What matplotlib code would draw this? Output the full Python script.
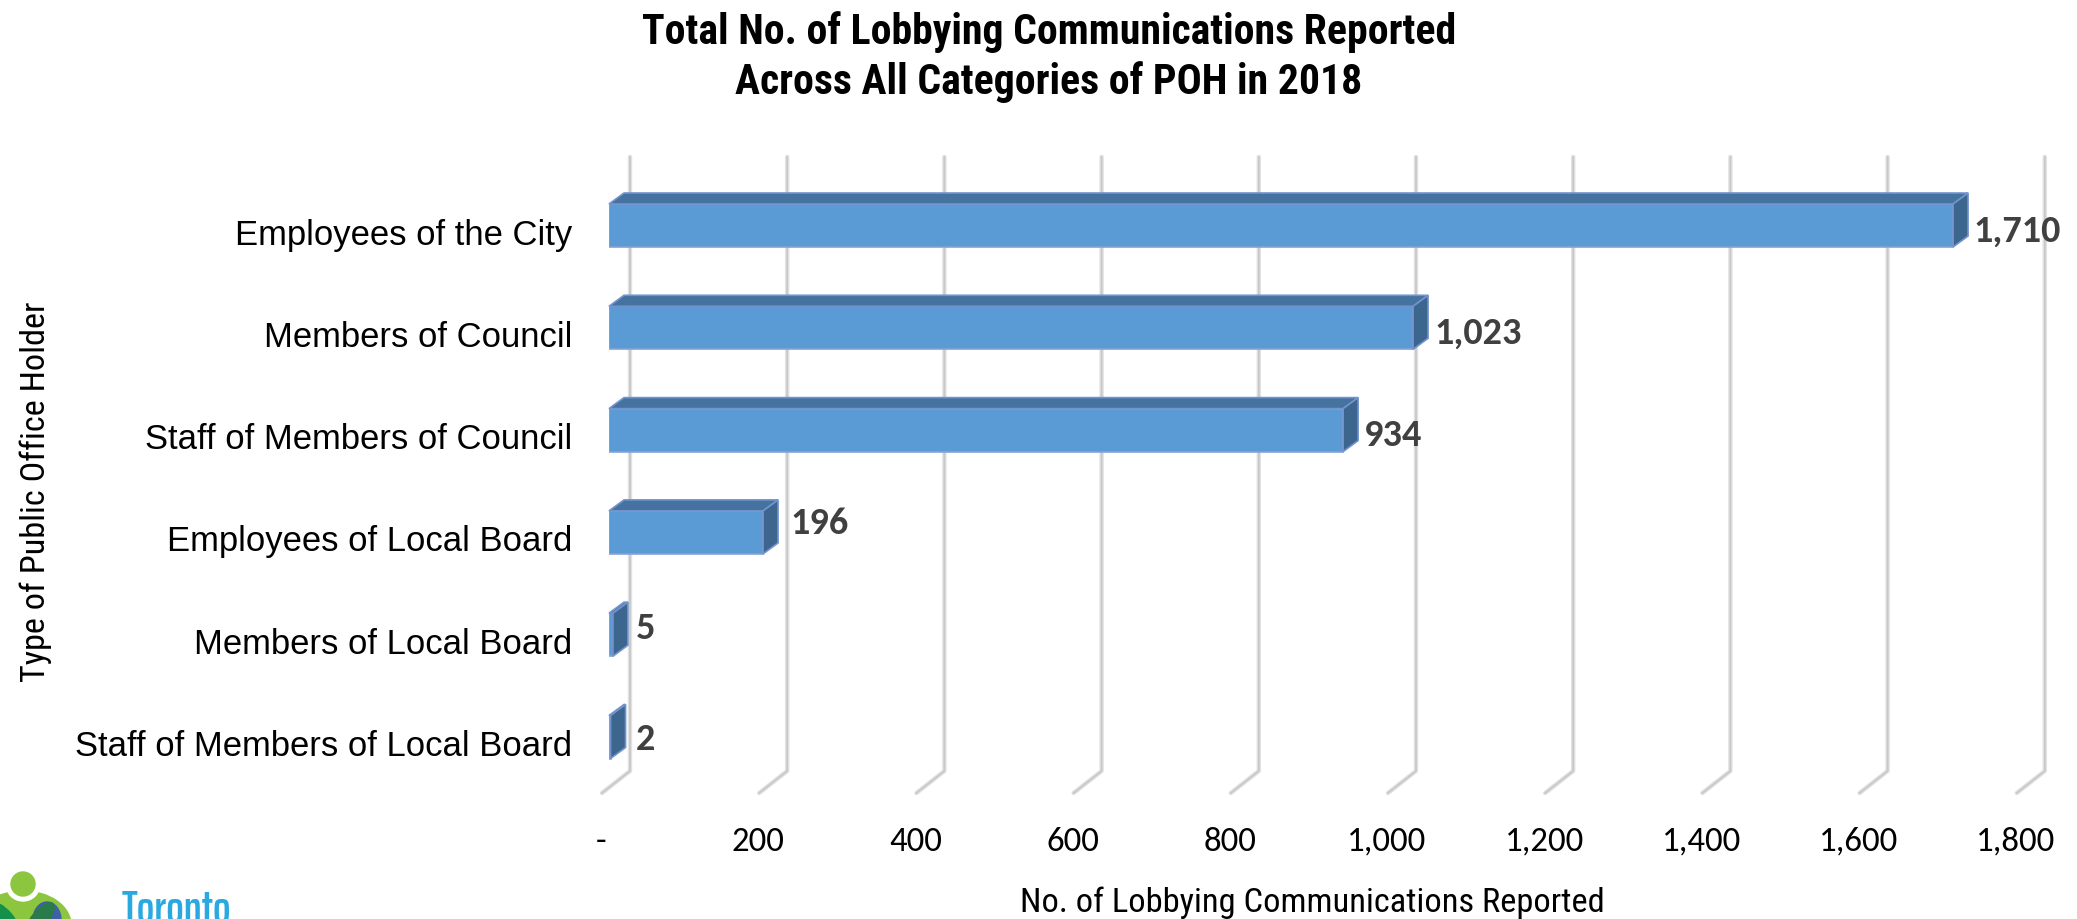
import numpy as np
import matplotlib
matplotlib.use('Agg')
import logging
import matplotlib.pyplot as plt
from matplotlib.patches import Ellipse, Circle
from matplotlib.transforms import ScaledTranslation

logging.getLogger('matplotlib.font_manager').setLevel(logging.ERROR)

categories = ['Employees of the City', 'Members of Council', 'Staff of Members of Council',
              'Employees of Local Board', 'Members of Local Board', 'Staff of Members of Local Board']
values = [1710, 1023, 934, 196, 5, 2]
value_labels = ['1,710', '1,023', '934', '196', '5', '2']
x_ticks = [0, 200, 400, 600, 800, 1000, 1200, 1400, 1600, 1800]
x_tick_labels = ['-', '200', '400', '600', '800', '1,000', '1,200', '1,400', '1,600', '1,800']

W, H = 2077, 920
NARROW = ['Roboto Condensed', 'Liberation Sans']
CALIBRI = ['Carlito', 'Lato']

# pixel layout of the front plane of the bars
left_px, k = 609, 0.786
row_px = 102.3
top_px = 226.5 - row_px / 2

fig = plt.figure(figsize=(W / 100, H / 100), dpi=100)
ax = fig.add_axes([left_px / W, 1 - (top_px + 6 * row_px) / H, 1800 * k / W, 6 * row_px / H])
ax.set_xlim(0, 1800)
ax.set_ylim(5.5, -0.5)
for s in ax.spines.values():
    s.set_visible(False)

# fake 3d walls, floor
wall_dx = 21 / k
floor_dx = -7 / k
wall_top = (158 - 226.5) / row_px
wall_bot = (772 - 226.5) / row_px
floor_bot = (794 - 226.5) / row_px
for v in x_ticks:
    xs = [v + wall_dx, v + wall_dx, v + floor_dx]
    ys = [wall_top, wall_bot, floor_bot]
    ax.plot(xs, ys, color='#e2e2e2', lw=3.2, clip_on=False, zorder=1, solid_joinstyle='round', solid_capstyle='round')
    ax.plot(xs, ys, color='#c8c8c8', lw=1.3, clip_on=False, zorder=1.1, solid_joinstyle='round')

# bars with depth
bar_h = 43 / row_px
dx = 15 / k
dy = 11 / row_px
y_pos = np.arange(len(values))
edge = '#7393cf'
ax.barh(y_pos, values, height=bar_h, color='#5b9bd5', edgecolor='#86a3d4', lw=1.2, zorder=3)
for y, v in zip(y_pos, values):
    t, b = y - bar_h / 2, y + bar_h / 2
    ax.fill([0, v, v + dx, dx], [t, t, t - dy, t - dy], facecolor='#44739f', edgecolor=edge, lw=1.2, zorder=3, clip_on=False)
    ax.fill([v, v + dx, v + dx, v], [t, t - dy, b - dy, b], facecolor='#3d668f', edgecolor=edge, lw=1.2, zorder=3.1, clip_on=False)

# data labels
label_dx = [20, 21, 21, 27, 23, 25]
label_dy = [-4.5, -4.7, -4, 10, 7, -2]
for y, v, txt, ox, oy in zip(y_pos, values, value_labels, label_dx, label_dy):
    ax.annotate(txt, (v, y), xytext=(ox, oy), textcoords='offset pixels', va='center', ha='left',
                family=CALIBRI, fontweight='bold', fontsize=27.5, color='#404040', zorder=5)

# ticks
ax.set_yticks(y_pos, categories)
ax.set_xticks(x_ticks, x_tick_labels)
ax.tick_params(axis='both', length=0)
ax.tick_params(axis='y', pad=26.2)
ax.tick_params(axis='x', pad=27)
for lab in ax.get_yticklabels():
    lab.set_family('Liberation Sans')
    lab.set_fontsize(24.9)
    lab.set_color('black')
    lab.set_transform(lab.get_transform() + ScaledTranslation(0, -5 / 100, fig.dpi_scale_trans))
for lab in ax.get_xticklabels():
    lab.set_family(CALIBRI)
    lab.set_fontsize(25)
    lab.set_color('black')
    lab.set_transform(lab.get_transform() + ScaledTranslation(-8 / 100, 0, fig.dpi_scale_trans))

# titles
fig.text(1049 / W, 1 - 32 / H, 'Total No. of Lobbying Communications Reported', ha='center', va='center',
         family=NARROW, fontweight='bold', fontsize=30.1)
fig.text(1049 / W, 1 - 82 / H, 'Across All Categories of POH in 2018', ha='center', va='center',
         family=NARROW, fontweight='bold', fontsize=30.1)
fig.text(36 / W, 1 - 492 / H, 'Type of Public Office Holder', rotation=90, ha='center', va='center',
         family=NARROW, fontsize=24.7)
fig.text(1312 / W, 1 - 903 / H, 'No. of Lobbying Communications Reported', ha='center', va='center',
         family=NARROW, fontsize=24.8)

# logo, cut off by the page edge like the source
px = lambda x, y: (x, H - y)
fig.add_artist(Ellipse(px(23, 926), 96, 68, transform=None, color='#8cc63f'))
fig.add_artist(Circle(px(23, 885), 17, transform=None, color='white'))
fig.add_artist(Circle(px(23, 885), 12, transform=None, color='#8cc63f'))
fig.add_artist(Ellipse(px(47, 921), 28, 36, transform=None, color='#3f5fa8'))
fig.add_artist(Ellipse(px(40, 920), 16, 40, angle=-40, transform=None, color='#2b7a4b'))
fig.add_artist(Ellipse(px(5, 920), 16, 40, angle=40, transform=None, color='#139049'))
fig.text(122 / W, 1 - 889 / H, 'Toronto', ha='left', va='top', family=['Saira ExtraCondensed', 'Roboto Condensed'],
         fontweight=600, fontsize=33, color='#2aa9e0')

fig.savefig('out.png', dpi=100, facecolor='white')
